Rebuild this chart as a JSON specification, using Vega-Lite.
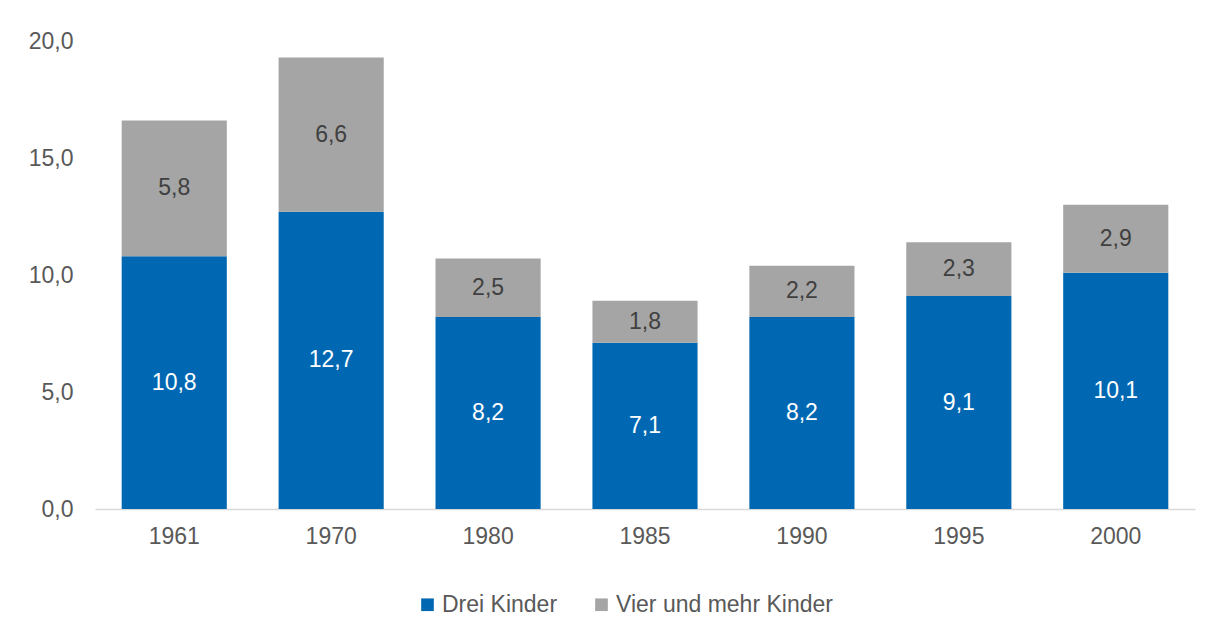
{
  "$schema": "https://vega.github.io/schema/vega-lite/v6.json",
  "width": 1100,
  "height": 468,
  "autosize": {"type": "none"},
  "padding": {"left": 95, "top": 41, "right": 18, "bottom": 109},
  "background": "white",
  "config": {
    "locale": {"number": {"decimal": ",", "thousands": ".", "grouping": [3], "currency": ["", " €"]}},
    "view": {"stroke": null},
    "font": "Liberation Sans"
  },
  "data": {
    "values": [
      {"Jahr": "1961", "Gruppe": "Drei Kinder", "Wert": 10.8, "o": 1},
      {"Jahr": "1961", "Gruppe": "Vier und mehr Kinder", "Wert": 5.8, "o": 2},
      {"Jahr": "1970", "Gruppe": "Drei Kinder", "Wert": 12.7, "o": 1},
      {"Jahr": "1970", "Gruppe": "Vier und mehr Kinder", "Wert": 6.6, "o": 2},
      {"Jahr": "1980", "Gruppe": "Drei Kinder", "Wert": 8.2, "o": 1},
      {"Jahr": "1980", "Gruppe": "Vier und mehr Kinder", "Wert": 2.5, "o": 2},
      {"Jahr": "1985", "Gruppe": "Drei Kinder", "Wert": 7.1, "o": 1},
      {"Jahr": "1985", "Gruppe": "Vier und mehr Kinder", "Wert": 1.8, "o": 2},
      {"Jahr": "1990", "Gruppe": "Drei Kinder", "Wert": 8.2, "o": 1},
      {"Jahr": "1990", "Gruppe": "Vier und mehr Kinder", "Wert": 2.2, "o": 2},
      {"Jahr": "1995", "Gruppe": "Drei Kinder", "Wert": 9.1, "o": 1},
      {"Jahr": "1995", "Gruppe": "Vier und mehr Kinder", "Wert": 2.3, "o": 2},
      {"Jahr": "2000", "Gruppe": "Drei Kinder", "Wert": 10.1, "o": 1},
      {"Jahr": "2000", "Gruppe": "Vier und mehr Kinder", "Wert": 2.9, "o": 2}
    ]
  },
  "encoding": {
    "x": {
      "field": "Jahr", "type": "nominal", "title": null,
      "scale": {"paddingInner": 0.33, "paddingOuter": 0.17},
      "axis": {"labelAngle": 0, "labelFontSize": 23, "labelColor": "#595959", "labelPadding": 16,
               "ticks": false, "domainColor": "#d9d9d9", "domainWidth": 1.5, "grid": false}
    }
  },
  "layer": [
    {
      "mark": {"type": "bar"},
      "encoding": {
        "y": {
          "field": "Wert", "type": "quantitative", "stack": "zero", "title": null,
          "scale": {"domain": [0, 20]},
          "axis": {"values": [0, 5, 10, 15, 20], "format": ".1f", "labelFontSize": 23, "labelColor": "#595959",
                   "labelPadding": 22, "ticks": false, "domain": false, "grid": false}
        },
        "color": {
          "field": "Gruppe", "type": "nominal",
          "scale": {"domain": ["Drei Kinder", "Vier und mehr Kinder"], "range": ["#0068b3", "#a5a5a5"]},
          "legend": {"title": null, "orient": "none", "legendX": 321, "legendY": 552, "direction": "horizontal", "symbolType": "square",
                     "symbolSize": 160, "symbolStrokeWidth": 0, "labelFontSize": 23, "labelColor": "#595959",
                     "labelLimit": 400, "columnPadding": 32, "labelOffset": 3}
        },
        "order": {"field": "o", "type": "quantitative"}
      }
    },
    {
      "transform": [
        {"stack": "Wert", "groupby": ["Jahr"], "sort": [{"field": "o", "order": "ascending"}], "as": ["y0", "y1"]},
        {"calculate": "(datum.y0 + datum.y1) / 2", "as": "ymid"}
      ],
      "mark": {"type": "text", "fontSize": 23, "baseline": "middle"},
      "encoding": {
        "y": {"field": "ymid", "type": "quantitative"},
        "text": {"field": "Wert", "type": "quantitative", "format": ".1f"},
        "color": {
          "field": "Gruppe", "type": "nominal",
          "scale": {"domain": ["Drei Kinder", "Vier und mehr Kinder"], "range": ["#ffffff", "#404040"]},
          "legend": null
        }
      }
    }
  ],
  "resolve": {"scale": {"color": "independent"}}
}
